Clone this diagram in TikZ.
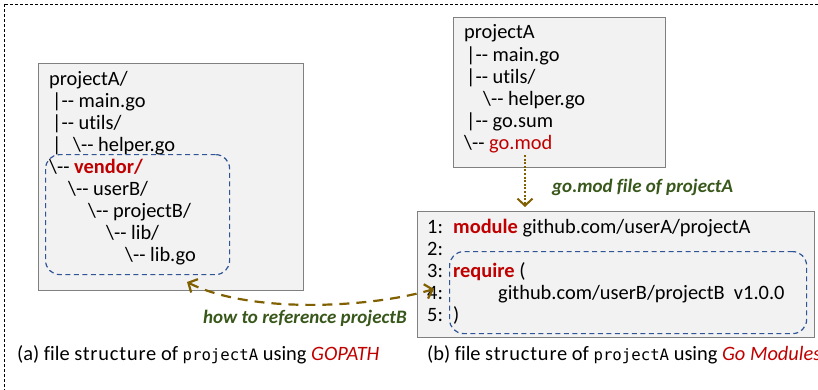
\documentclass[tikz,border=0pt]{standalone}
\usepackage{fontspec}
\setmainfont{Carlito}[Ligatures={NoCommon}]
\setmonofont{DejaVu Sans Mono}
\newfontfamily\spacedfont{Carlito}[LetterSpace=4,Ligatures={NoCommon}]
\usetikzlibrary{arrows.meta}
\definecolor{boxfill}{HTML}{F2F2F2}
\definecolor{boxline}{HTML}{808080}
\definecolor{kred}{HTML}{C00000}
\definecolor{kgreen}{HTML}{38571A}
\definecolor{olive}{HTML}{806000}
\definecolor{dblue}{HTML}{2F5597}
\newcommand\kmono[1]{{\fontsize{15.7}{22}\selectfont\ttfamily #1}}
\newcommand\bs{\textbackslash}
\begin{document}
\begin{tikzpicture}[x=1pt,y=-1pt,
  txt/.style={anchor=base west, inner sep=0pt, font=\fontsize{20.4}{22}\selectfont},
  lbl/.style={anchor=base west, inner sep=0pt, font=\fontsize{19}{22}\selectfont\bfseries\itshape, text=kgreen},
  filebox/.style={draw=boxline, fill=boxfill, line width=1pt, anchor=north west, inner sep=0pt},
  grp/.style={draw=dblue, dash pattern=on 5pt off 3.5pt, line width=1.2pt, rounded corners=14pt, anchor=north west, inner sep=0pt},
  tipv/.tip={Straight Barb[length=7pt,width=15pt]},
  link/.style={draw=olive, line width=2.2pt, dash pattern=on 10pt off 7pt, tipv-tipv},
  mod/.style={draw=olive, line width=2pt, dash pattern=on 2pt off 1.6pt, -tipv},
]
\useasboundingbox (0,0) rectangle (818,389);
\clip (0,0) rectangle (818,389);
\draw[dash pattern=on 3pt off 2pt, line width=1pt] (4,4) rectangle (840,420);

% boxes
\node[filebox, minimum width=265pt, minimum height=227pt] (boxA) at (38,63) {};
\node[filebox, minimum width=212pt, minimum height=150pt] (boxM) at (453,17) {};
\node[filebox, minimum width=397pt, minimum height=126pt] (boxB) at (417,211) {};

% left tree
\node[txt] (a1) at (49,85) {projectA/};
\node[txt] (a2) at (52,107) {|-{}- main.go};
\node[txt] (a3) at (52,129) {|-{}- utils/};
\node[txt] (a4) at (52,151) {\makebox[21pt][l]{|}\bs-{}- helper.go};
\node[txt] (a5) at (49,173) {\bs-{}- {\color{kred}\bfseries vendor/}};
\node[txt] (a6) at (68,195) {\bs-{}- userB/};
\node[txt] (a7) at (88,217) {\bs-{}- projectB/};
\node[txt] (a8) at (106,239) {\bs-{}- lib/};
\node[txt] (a9) at (125,261) {\bs-{}- lib.go};
\node[grp, minimum width=184pt, minimum height=120pt] (grpA) at (45,154) {};

% right top tree
\node[txt] (b1) at (464,38) {projectA};
\node[txt] (b2) at (466,61) {|-{}- main.go};
\node[txt] (b3) at (466,83) {|-{}- utils/};
\node[txt] (b4) at (483,105) {\bs-{}- helper.go};
\node[txt] (b5) at (466,127) {|-{}- go.sum};
\node[txt] (b6) at (464,149) {\bs-{}- {\color{kred}go.mod}};

% go.mod content
\node[txt] (c1) at (427,233) {1:};
\node[txt] (c1t) at (453,233) {{\color{kred}\bfseries module} github.com/userA/projectA};
\node[txt] (c2) at (427,255) {2:};
\node[txt] (c3) at (427,277) {3:};
\node[txt] (c3t) at (453,277) {{\color{kred}\bfseries require} (};
\node[txt] (c4) at (427,299) {4:};
\node[txt] (c4t) at (498,299) {github.com/userB/projectB\ \ v1.0.0};
\node[txt] (c5) at (427,321) {5:};
\node[txt] (c5t) at (453,321) {)};
\node[grp, minimum width=357pt, minimum height=82pt] (grpB) at (449,251) {};

% labels
\node[lbl] (lblM) at (552,192) {go.mod file of projectA};
\node[lbl] (lblL) at (203,323) {how to reference projectB};

% captions
\node[txt] (capA) at (17,360) {(a) file {\spacedfont structure} of \kmono{projectA} using {\color{kred}\itshape GOPATH}};
\node[txt] (capB) at (427,360) {(b) file {\spacedfont structure} of \kmono{projectA} using {\color{kred}\itshape Go Modules}};

% connectors
\coordinate (mS) at (525,155);
\coordinate (mE) at (525,207);
\draw[mod] (mS) -- (mE);
\coordinate (pA) at (187,282);
\coordinate (pB) at (434,289);
\draw[link] (pA) .. controls (250,314) and (370,308) .. (pB);
\end{tikzpicture}
\end{document}
